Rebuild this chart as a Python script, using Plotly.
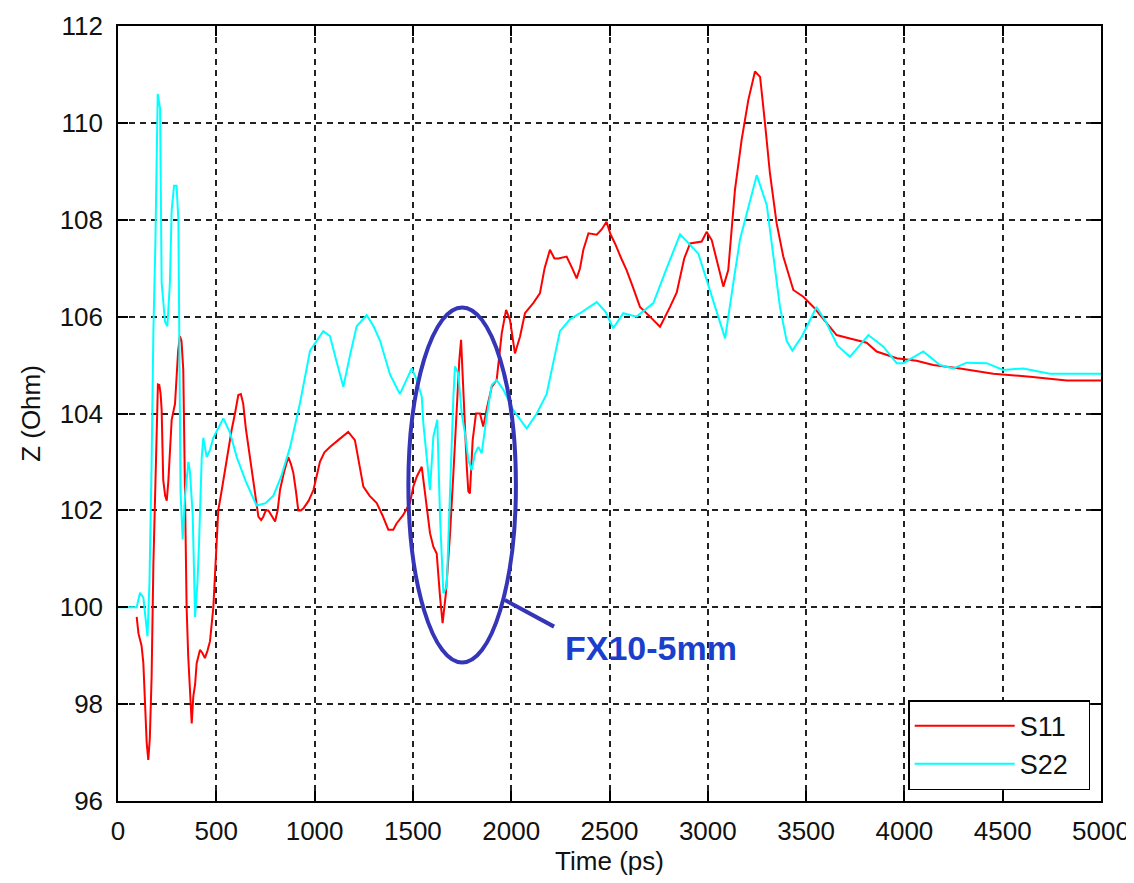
import plotly.graph_objects as go

# ---- data ----
s11_t = [95, 104, 120, 129, 146, 154, 162, 171, 180, 190, 197, 203, 210, 217, 222, 230, 240, 248, 256, 264,
         273, 290, 298, 306, 315, 323, 332, 340, 349, 357, 366, 375, 383, 392, 400, 417, 430, 442, 455, 468,
         485, 497, 510, 527, 544, 561, 578, 595, 612, 625, 637, 650, 671, 690, 714, 728, 739, 752, 765, 780,
         799, 812, 824, 845, 866, 880, 892, 905, 917, 930, 943, 970, 994, 1010, 1027, 1050, 1078, 1120, 1171, 1205,
         1225, 1248, 1280, 1316, 1345, 1375, 1400, 1417, 1450, 1485, 1502, 1520, 1545, 1562, 1587, 1604, 1621, 1638, 1651, 1668,
         1689, 1706, 1723, 1736, 1745, 1753, 1765, 1774, 1782, 1790, 1804, 1821, 1841, 1858, 1878, 1901, 1926, 1952, 1974, 1994,
         2019, 2045, 2070, 2112, 2146, 2170, 2197, 2220, 2240, 2282, 2310, 2333, 2350, 2367, 2393, 2435, 2460, 2485, 2505, 2528,
         2560, 2587, 2620, 2655, 2706, 2757, 2808, 2842, 2880, 2910, 2969, 2994, 3020, 3050, 3079, 3104, 3138, 3172, 3206, 3240,
         3266, 3291, 3316, 3350, 3384, 3435, 3486, 3537, 3604, 3655, 3723, 3808, 3859, 3961, 4062, 4147, 4283, 4452, 4639, 4826,
         5000]
s11_z = [99.8, 99.46, 99.2, 98.84, 97.2, 96.85, 97.3, 98.57, 100.9, 102.8, 103.93, 104.6, 104.59, 104.4, 104.07, 102.63, 102.3, 102.2, 102.6, 103.1,
         103.87, 104.2, 104.7, 105.3, 105.6, 105.5, 104.9, 102.5, 100.0, 99.0, 98.22, 97.6, 98.16, 98.4, 98.84, 99.12, 99.05, 98.95, 99.1, 99.3,
         100.0, 101.0, 102.0, 102.4, 102.83, 103.2, 103.66, 104.0, 104.38, 104.4, 104.2, 103.7, 103.1, 102.6, 101.87, 101.8, 101.87, 102.0, 102.0, 101.9,
         101.77, 102.0, 102.42, 102.8, 103.1, 102.95, 102.77, 102.4, 102.0, 102.0, 102.04, 102.2, 102.42, 102.7, 103.0, 103.2, 103.31, 103.45, 103.62, 103.45,
         103.0, 102.49, 102.3, 102.15, 101.9, 101.6, 101.6, 101.73, 101.9, 102.15, 102.49, 102.7, 102.9, 102.35, 101.53, 101.25, 101.11, 100.22, 99.67, 100.29,
         101.53, 102.77, 104.28, 105.1, 105.52, 104.76, 103.93, 102.9, 102.39, 102.35, 103.45, 104.0, 104.0, 103.73, 104.14, 104.55, 104.69, 105.66, 106.14, 105.93,
         105.24, 105.59, 106.07, 106.28, 106.48, 107.0, 107.38, 107.2, 107.2, 107.24, 107.0, 106.79, 107.0, 107.38, 107.72, 107.69, 107.8, 107.96, 107.7, 107.51,
         107.2, 106.96, 106.6, 106.2, 106.0, 105.79, 106.2, 106.5, 107.2, 107.51, 107.55, 107.75, 107.58, 107.1, 106.62, 106.96, 108.61, 109.65, 110.47, 111.06,
         110.95, 109.99, 108.96, 107.93, 107.24, 106.55, 106.41, 106.2, 105.86, 105.62, 105.55, 105.46, 105.28, 105.14, 105.09, 105.0, 104.93, 104.82, 104.76, 104.68,
         104.68]

s22_t = [0, 95, 112, 129, 150, 160, 171, 180, 190, 202, 214, 222, 239, 251, 264, 273, 285, 298, 307, 312,
         318, 329, 341, 358, 366, 380, 392, 404, 412, 426, 434, 451, 468, 485, 536, 570, 604, 650, 705, 750,
         790, 830, 875, 925, 977, 1044, 1078, 1110, 1146, 1180, 1214, 1265, 1300, 1333, 1384, 1434, 1494, 1519, 1545, 1553,
         1587, 1604, 1624, 1638, 1655, 1672, 1689, 1706, 1714, 1731, 1748, 1765, 1782, 1799, 1816, 1833, 1850, 1875, 1901, 1926,
         1960, 2011, 2079, 2130, 2180, 2248, 2300, 2350, 2435, 2480, 2519, 2570, 2638, 2723, 2791, 2859, 2952, 3028, 3088, 3130,
         3164, 3249, 3300, 3367, 3401, 3430, 3480, 3553, 3600, 3660, 3723, 3817, 3893, 3961, 3995, 4096, 4181, 4249, 4317, 4418,
         4503, 4605, 4740, 5000]
s22_z = [100.0, 100.0, 100.3, 100.2, 99.4, 100.5, 103.0, 105.7, 107.5, 110.6, 110.3, 106.7, 105.9, 105.8, 106.7, 108.2, 108.7, 108.7, 108.0, 105.7,
         102.4, 101.4, 102.3, 103.0, 102.8, 101.9, 99.8, 100.5, 101.3, 103.1, 103.5, 103.1, 103.25, 103.5, 103.9, 103.6, 103.1, 102.6, 102.1, 102.15,
         102.3, 102.7, 103.3, 104.2, 105.3, 105.7, 105.6, 105.1, 104.55, 105.2, 105.8, 106.03, 105.8, 105.5, 104.8, 104.4, 104.93, 104.7, 104.35, 103.8,
         102.42, 103.52, 103.87, 101.87, 100.29, 100.43, 102.56, 104.35, 104.97, 104.83, 104.0, 103.59, 103.04, 102.83, 103.18, 103.31, 103.18, 103.93, 104.59, 104.69,
         104.49, 104.07, 103.69, 104.0, 104.4, 105.7, 105.95, 106.07, 106.3, 106.1, 105.76, 106.07, 106.0, 106.28, 107.0, 107.7, 107.3, 106.3, 105.55, 106.7,
         107.6, 108.92, 108.3, 106.2, 105.5, 105.3, 105.6, 106.2, 105.9, 105.4, 105.17, 105.62, 105.38, 105.04, 105.04, 105.28, 105.0, 104.93, 105.05, 105.04,
         104.9, 104.93, 104.82, 104.82]

series_names = ["S11", "S22"]
x_ticks = [0, 500, 1000, 1500, 2000, 2500, 3000, 3500, 4000, 4500, 5000]
y_ticks = [96, 98, 100, 102, 104, 106, 108, 110, 112]
annotation_text = "FX10-5mm"

FONT = "Liberation Sans, Arial, sans-serif"
PAD = "\u00a0\u00a0"

fig = go.Figure()
fig.add_trace(go.Scatter(x=s11_t, y=s11_z, mode="lines", name=series_names[0] + PAD,
                         line=dict(color="#ff0000", width=2)))
fig.add_trace(go.Scatter(x=s22_t, y=s22_z, mode="lines", name=series_names[1] + PAD,
                         line=dict(color="#00ffff", width=2)))

axis_common = dict(
    showline=True, linecolor="black", linewidth=1.5, mirror="ticks",
    ticks="inside", ticklen=10, tickwidth=1.5, tickcolor="black",
    showgrid=True, gridcolor="#222222", gridwidth=1.5, griddash="6px,5px",
    zeroline=False, automargin=False,
    tickfont=dict(family=FONT, size=26, color="#111111"),
)

fig.update_xaxes(range=[0, 5000], tickvals=x_ticks, ticktext=[str(v) for v in x_ticks],
                 title=dict(text="Time (ps)", font=dict(family=FONT, size=26, color="#111111"), standoff=4),
                 ticklabelstandoff=6, **axis_common)
fig.update_yaxes(range=[96, 112], tickvals=y_ticks, ticktext=[str(v) for v in y_ticks],
                 title=dict(text="Z (Ohm)", font=dict(family=FONT, size=26, color="#111111"), standoff=12),
                 ticklabelstandoff=8, **axis_common)

# ellipse highlighting the connector region
fig.add_shape(type="circle", xref="x", yref="y", x0=1477, x1=2024, y0=98.86, y1=106.19,
              line=dict(color="#3535b8", width=4))
fig.add_shape(type="line", xref="x", yref="y", x0=1968, y0=100.15, x1=2218, y1=99.6,
              line=dict(color="#3535b8", width=4))
fig.add_annotation(x=2712, y=99.15, xref="x", yref="y", text="<b>" + annotation_text + "</b>",
                   showarrow=False, font=dict(family=FONT, size=34, color="#1a3fcc"))

# the page body adds an 8px offset, so the figure is sized to fit the window
fig.update_layout(
    width=1126, height=875,
    margin=dict(l=110, r=33, t=18, b=82),
    paper_bgcolor="white", plot_bgcolor="white",
    showlegend=True,
    legend=dict(x=0.989, y=0.014, xanchor="right", yanchor="bottom",
                bgcolor="white", bordercolor="black", borderwidth=1.5,
                font=dict(family=FONT, size=27, color="#111111"),
                itemwidth=100, tracegroupgap=0),
)

fig.write_html("out.html")
